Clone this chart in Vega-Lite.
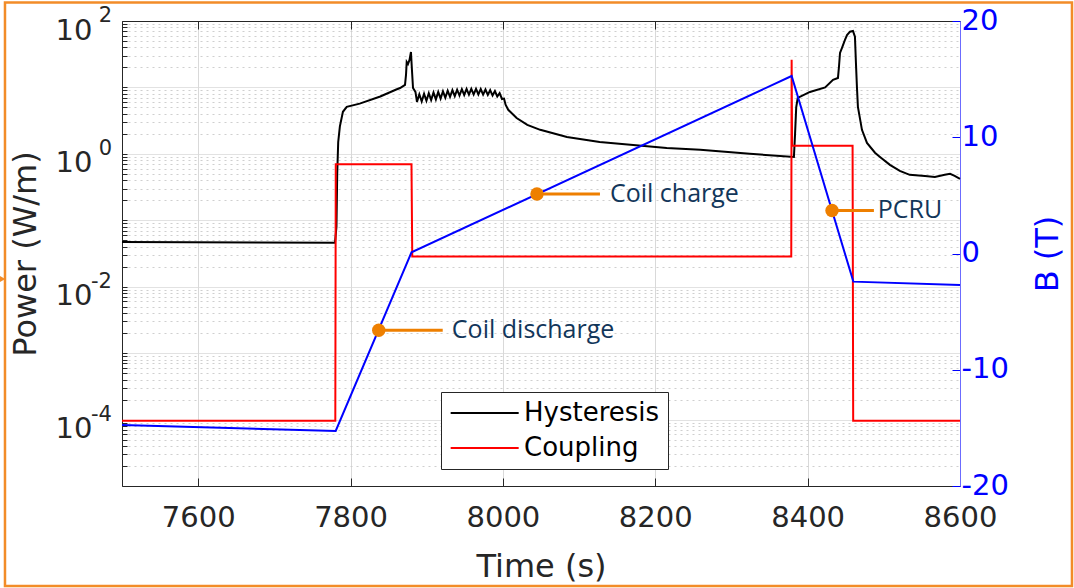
{
  "$schema": "https://vega.github.io/schema/vega-lite/v6.json",
  "width": 838,
  "height": 465,
  "autosize": {"type": "none"},
  "padding": {"left": 122, "top": 21, "right": 114, "bottom": 102},
  "background": "#ffffff",
  "config": {
    "view": {"stroke": null},
    "font": "DejaVu Sans",
    "axis": {
      "labelFont": "DejaVu Sans", "titleFont": "DejaVu Sans",
      "labelFontSize": 29, "titleFontSize": 32, "titleFontWeight": "normal",
      "labelColor": "#262626", "titleColor": "#262626",
      "domainColor": "#262626", "tickColor": "#262626",
      "domainWidth": 1, "tickWidth": 1,
      "labelFlush": false, "labelOverlap": false
    }
  },
  "datasets": {
    "power": [
      {"t": 7500, "P": 0.047, "s": "Hysteresis"},
      {"t": 7779.6, "P": 0.046, "s": "Hysteresis"},
      {"t": 7781.5, "P": 0.08, "s": "Hysteresis"},
      {"t": 7782.5, "P": 0.5, "s": "Hysteresis"},
      {"t": 7783.8, "P": 1.5, "s": "Hysteresis"},
      {"t": 7786, "P": 2.6, "s": "Hysteresis"},
      {"t": 7790, "P": 4.3, "s": "Hysteresis"},
      {"t": 7795, "P": 5.1, "s": "Hysteresis"},
      {"t": 7812, "P": 5.7, "s": "Hysteresis"},
      {"t": 7839, "P": 7.3, "s": "Hysteresis"},
      {"t": 7860, "P": 9.3, "s": "Hysteresis"},
      {"t": 7865, "P": 9.8, "s": "Hysteresis"},
      {"t": 7871.5, "P": 10.9, "s": "Hysteresis"},
      {"t": 7872.8, "P": 15.4, "s": "Hysteresis"},
      {"t": 7873.7, "P": 24.2, "s": "Hysteresis"},
      {"t": 7875.4, "P": 22.5, "s": "Hysteresis"},
      {"t": 7877.4, "P": 25.9, "s": "Hysteresis"},
      {"t": 7879.3, "P": 34.2, "s": "Hysteresis"},
      {"t": 7880.6, "P": 18.3, "s": "Hysteresis"},
      {"t": 7882, "P": 9.8, "s": "Hysteresis"},
      {"t": 7885.2, "P": 8.55, "s": "Hysteresis"},
      {"t": 7887.2, "P": 6.06, "s": "Hysteresis"},
      {"t": 7890.3, "P": 7.9, "s": "Hysteresis"},
      {"t": 7893.4, "P": 6.15, "s": "Hysteresis"},
      {"t": 7896.5, "P": 8.05, "s": "Hysteresis"},
      {"t": 7899.6, "P": 6.3, "s": "Hysteresis"},
      {"t": 7902.7, "P": 8.2, "s": "Hysteresis"},
      {"t": 7905.8, "P": 6.45, "s": "Hysteresis"},
      {"t": 7908.9, "P": 8.4, "s": "Hysteresis"},
      {"t": 7912, "P": 6.6, "s": "Hysteresis"},
      {"t": 7915.1, "P": 8.55, "s": "Hysteresis"},
      {"t": 7918.2, "P": 6.8, "s": "Hysteresis"},
      {"t": 7921.3, "P": 8.75, "s": "Hysteresis"},
      {"t": 7924.4, "P": 7.0, "s": "Hysteresis"},
      {"t": 7927.5, "P": 8.95, "s": "Hysteresis"},
      {"t": 7930.6, "P": 7.2, "s": "Hysteresis"},
      {"t": 7933.7, "P": 9.1, "s": "Hysteresis"},
      {"t": 7936.8, "P": 7.4, "s": "Hysteresis"},
      {"t": 7939.9, "P": 9.25, "s": "Hysteresis"},
      {"t": 7943, "P": 7.55, "s": "Hysteresis"},
      {"t": 7946.1, "P": 9.4, "s": "Hysteresis"},
      {"t": 7949.2, "P": 7.7, "s": "Hysteresis"},
      {"t": 7952.3, "P": 9.5, "s": "Hysteresis"},
      {"t": 7955.4, "P": 7.8, "s": "Hysteresis"},
      {"t": 7958.5, "P": 9.5, "s": "Hysteresis"},
      {"t": 7961.6, "P": 7.85, "s": "Hysteresis"},
      {"t": 7964.7, "P": 9.5, "s": "Hysteresis"},
      {"t": 7967.8, "P": 7.85, "s": "Hysteresis"},
      {"t": 7970.9, "P": 9.45, "s": "Hysteresis"},
      {"t": 7974, "P": 7.8, "s": "Hysteresis"},
      {"t": 7977.1, "P": 9.3, "s": "Hysteresis"},
      {"t": 7980.2, "P": 7.7, "s": "Hysteresis"},
      {"t": 7983.3, "P": 9.1, "s": "Hysteresis"},
      {"t": 7986.4, "P": 7.55, "s": "Hysteresis"},
      {"t": 7989.5, "P": 8.8, "s": "Hysteresis"},
      {"t": 7992.6, "P": 7.3, "s": "Hysteresis"},
      {"t": 7995.7, "P": 8.2, "s": "Hysteresis"},
      {"t": 7998.8, "P": 6.7, "s": "Hysteresis"},
      {"t": 8001.5, "P": 6.8, "s": "Hysteresis"},
      {"t": 8003.5, "P": 5.5, "s": "Hysteresis"},
      {"t": 8007, "P": 4.6, "s": "Hysteresis"},
      {"t": 8018, "P": 3.47, "s": "Hysteresis"},
      {"t": 8032, "P": 2.73, "s": "Hysteresis"},
      {"t": 8049, "P": 2.3, "s": "Hysteresis"},
      {"t": 8084, "P": 1.8, "s": "Hysteresis"},
      {"t": 8127, "P": 1.51, "s": "Hysteresis"},
      {"t": 8171, "P": 1.36, "s": "Hysteresis"},
      {"t": 8215, "P": 1.23, "s": "Hysteresis"},
      {"t": 8259, "P": 1.15, "s": "Hysteresis"},
      {"t": 8324, "P": 1.0, "s": "Hysteresis"},
      {"t": 8382, "P": 0.9, "s": "Hysteresis"},
      {"t": 8383.5, "P": 2.0, "s": "Hysteresis"},
      {"t": 8385, "P": 5.0, "s": "Hysteresis"},
      {"t": 8387, "P": 6.95, "s": "Hysteresis"},
      {"t": 8403, "P": 8.55, "s": "Hysteresis"},
      {"t": 8423, "P": 10.0, "s": "Hysteresis"},
      {"t": 8433.3, "P": 13.0, "s": "Hysteresis"},
      {"t": 8439.8, "P": 13.9, "s": "Hysteresis"},
      {"t": 8441.1, "P": 20.3, "s": "Hysteresis"},
      {"t": 8442.5, "P": 33, "s": "Hysteresis"},
      {"t": 8445.1, "P": 39.3, "s": "Hysteresis"},
      {"t": 8449, "P": 51.8, "s": "Hysteresis"},
      {"t": 8451.7, "P": 61.5, "s": "Hysteresis"},
      {"t": 8455.6, "P": 69, "s": "Hysteresis"},
      {"t": 8459.5, "P": 70.8, "s": "Hysteresis"},
      {"t": 8462.1, "P": 58, "s": "Hysteresis"},
      {"t": 8463.4, "P": 23.4, "s": "Hysteresis"},
      {"t": 8464.7, "P": 10.2, "s": "Hysteresis"},
      {"t": 8466, "P": 5.1, "s": "Hysteresis"},
      {"t": 8471.3, "P": 2.3, "s": "Hysteresis"},
      {"t": 8477.9, "P": 1.46, "s": "Hysteresis"},
      {"t": 8488.4, "P": 1.04, "s": "Hysteresis"},
      {"t": 8495, "P": 0.9, "s": "Hysteresis"},
      {"t": 8508, "P": 0.684, "s": "Hysteresis"},
      {"t": 8521, "P": 0.555, "s": "Hysteresis"},
      {"t": 8534, "P": 0.483, "s": "Hysteresis"},
      {"t": 8554, "P": 0.466, "s": "Hysteresis"},
      {"t": 8567, "P": 0.45, "s": "Hysteresis"},
      {"t": 8580, "P": 0.483, "s": "Hysteresis"},
      {"t": 8587, "P": 0.5, "s": "Hysteresis"},
      {"t": 8593, "P": 0.466, "s": "Hysteresis"},
      {"t": 8600, "P": 0.42, "s": "Hysteresis"},
      {"t": 7500, "P": 0.000096, "s": "Coupling"},
      {"t": 7780, "P": 0.000096, "s": "Coupling"},
      {"t": 7780.6, "P": 0.7, "s": "Coupling"},
      {"t": 7880, "P": 0.7, "s": "Coupling"},
      {"t": 7881, "P": 0.0286, "s": "Coupling"},
      {"t": 8378.5, "P": 0.0286, "s": "Coupling"},
      {"t": 8379, "P": 26, "s": "Coupling"},
      {"t": 8379.6, "P": 1.33, "s": "Coupling"},
      {"t": 8459, "P": 1.33, "s": "Coupling"},
      {"t": 8459.8, "P": 0.000096, "s": "Coupling"},
      {"t": 8600, "P": 0.000096, "s": "Coupling"}
    ],
    "bfield": [
      {"t": 7500, "B": -14.75},
      {"t": 7780.5, "B": -15.27},
      {"t": 7880, "B": 0.1},
      {"t": 8379, "B": 15.27},
      {"t": 8460, "B": -2.42},
      {"t": 8600, "B": -2.71}
    ],
    "annot": [
      {"label": "Coil discharge", "t": 7837, "t2": 7921, "tx": 7933, "B": -6.6},
      {"label": "Coil charge", "t": 8044.7, "t2": 8127.4, "tx": 8140.5, "B": 5.12},
      {"label": "PCRU", "t": 8432, "t2": 8487, "tx": 8492, "B": 3.7}
    ],
    "exps": [
      {"v": 100, "e": "2"},
      {"v": 1, "e": "0"},
      {"v": 0.01, "e": "-2"},
      {"v": 0.0001, "e": "-4"}
    ]
  },
  "layer": [
    {
      "data": {"name": "power"},
      "mark": {"type": "line", "strokeWidth": 2},
      "encoding": {
        "x": {
          "field": "t", "type": "quantitative",
          "scale": {"domain": [7500, 8600], "nice": false, "zero": false},
          "axis": {
            "values": [7600, 7800, 8000, 8200, 8400, 8600],
            "format": "d", "title": "Time (s)",
            "tickSize": -8, "labelPadding": 25, "titlePadding": 19,
            "grid": true, "gridColor": "#d9d9d9"
          }
        },
        "y": {
          "field": "P", "type": "quantitative",
          "scale": {"type": "log", "domain": [0.00001, 100]},
          "axis": {
            "values": [0.00001,0.00002,0.00003,0.00004,0.00005,0.00006,0.00007,0.00008,0.00009,0.0001,0.0002,0.0003,0.0004,0.0005,0.0006,0.0007,0.0008,0.0009,0.001,0.002,0.003,0.004,0.005,0.006,0.007,0.008,0.009,0.01,0.02,0.03,0.04,0.05,0.06,0.07,0.08,0.09,0.1,0.2,0.3,0.4,0.5,0.6,0.7,0.8,0.9,1,2,3,4,5,6,7,8,9,10,20,30,40,50,60,70,80,90,100],
            "labelExpr": "datum.value == 100 || datum.value == 1 || datum.value == 0.01 || datum.value == 0.0001 ? '10' : ''",
            "title": "Power (W/m)",
            "tickSize": -5, "labelPadding": 35, "labelOffset": 9, "titlePadding": 13,
            "grid": true,
            "gridColor": {"condition": {"test": "abs(log(datum.value)/LN10 - round(log(datum.value)/LN10)) < 0.001", "value": "#d9d9d9"}, "value": "#cfcfcf"},
            "gridDash": {"condition": {"test": "abs(log(datum.value)/LN10 - round(log(datum.value)/LN10)) < 0.001", "value": [1, 0]}, "value": [2, 4]}
          }
        },
        "color": {
          "field": "s", "type": "nominal",
          "scale": {"domain": ["Hysteresis", "Coupling"], "range": ["#000000", "#ff0000"]},
          "legend": {
            "title": null, "orient": "none", "legendX": 319, "legendY": 371,
            "symbolType": "M-1,0H5", "symbolSize": 514, "symbolStrokeWidth": 2,
            "labelFont": "DejaVu Sans", "labelFontSize": 26, "labelColor": "#000000",
            "labelOffset": 49, "labelLimit": 400, "rowPadding": 9, "padding": 8,
            "strokeColor": "#262626", "fillColor": "#ffffff"
          }
        }
      }
    },
    {
      "data": {"name": "exps"},
      "mark": {"type": "text", "align": "right", "baseline": "middle", "dx": -10, "dy": -5, "font": "DejaVu Sans", "fontSize": 21, "color": "#262626"},
      "encoding": {
        "x": {"datum": 7500, "type": "quantitative", "scale": {"domain": [7500, 8600], "nice": false, "zero": false}, "axis": null},
        "y": {"field": "v", "type": "quantitative", "scale": {"type": "log", "domain": [0.00001, 100]}, "axis": null},
        "text": {"field": "e"}
      }
    },
    {
      "data": {"name": "bfield"},
      "mark": {"type": "line", "color": "#0000ff", "strokeWidth": 2},
      "encoding": {
        "x": {
          "field": "t", "type": "quantitative",
          "scale": {"domain": [7500, 8600], "nice": false, "zero": false},
          "axis": {
            "orient": "top", "values": [7600, 7800, 8000, 8200, 8400, 8600],
            "labels": false, "domain": true, "grid": false, "tickSize": -8, "title": null
          }
        },
        "y": {
          "field": "B", "type": "quantitative",
          "scale": {"domain": [-20, 20], "nice": false, "zero": false},
          "axis": {
            "orient": "right", "values": [-20, -10, 0, 10, 20],
            "labelExpr": "datum.value < 0 ? '-' + abs(datum.value) : '' + datum.value",
            "title": "B (T)", "tickSize": -8, "tickColor": "#0000ff",
            "domainColor": "#6b6bff", "labelColor": "#0000ff", "titleColor": "#0000ff",
            "labelPadding": 9, "labelOffset": -1, "titlePadding": 24,
            "titleAngle": 270, "titleBaseline": "top", "grid": false
          }
        }
      }
    },
    {
      "data": {"name": "annot"},
      "mark": {"type": "rule", "color": "#ee7f00", "strokeWidth": 3},
      "encoding": {
        "x": {"field": "t", "type": "quantitative", "scale": {"domain": [7500, 8600], "nice": false, "zero": false}, "axis": null},
        "x2": {"field": "t2"},
        "y": {"field": "B", "type": "quantitative", "scale": {"domain": [-20, 20], "nice": false, "zero": false}, "axis": null}
      }
    },
    {
      "data": {"name": "annot"},
      "mark": {"type": "point", "shape": "circle", "filled": true, "opacity": 1, "size": 180, "color": "#ee7f00"},
      "encoding": {
        "x": {"field": "t", "type": "quantitative", "scale": {"domain": [7500, 8600], "nice": false, "zero": false}, "axis": null},
        "y": {"field": "B", "type": "quantitative", "scale": {"domain": [-20, 20], "nice": false, "zero": false}, "axis": null}
      }
    },
    {
      "data": {"name": "annot"},
      "mark": {"type": "text", "align": "left", "baseline": "middle", "font": "Open Sans", "fontSize": 25, "color": "#12365a"},
      "encoding": {
        "x": {"field": "tx", "type": "quantitative", "scale": {"domain": [7500, 8600], "nice": false, "zero": false}, "axis": null},
        "y": {"field": "B", "type": "quantitative", "scale": {"domain": [-20, 20], "nice": false, "zero": false}, "axis": null},
        "text": {"field": "label"}
      }
    },
    {
      "data": {"values": [{}]},
      "mark": {"type": "rect", "filled": false, "color": "#f28c28", "strokeWidth": 2.5},
      "encoding": {
        "x": {"datum": 7346.4, "type": "quantitative", "scale": {"domain": [7500, 8600], "nice": false, "zero": false}, "axis": null},
        "x2": {"datum": 8747},
        "y": {"datum": 21.6, "type": "quantitative", "scale": {"domain": [-20, 20], "nice": false, "zero": false}, "axis": null},
        "y2": {"datum": -28.6}
      }
    },
    {
      "data": {"values": [{}]},
      "mark": {"type": "point", "shape": "triangle-right", "filled": true, "opacity": 1, "size": 70, "color": "#f28c28"},
      "encoding": {
        "x": {"datum": 7342, "type": "quantitative", "scale": {"domain": [7500, 8600], "nice": false, "zero": false}, "axis": null},
        "y": {"datum": -2.2, "type": "quantitative", "scale": {"domain": [-20, 20], "nice": false, "zero": false}, "axis": null}
      }
    }
  ],
  "resolve": {"scale": {"x": "independent", "y": "independent"}}
}
